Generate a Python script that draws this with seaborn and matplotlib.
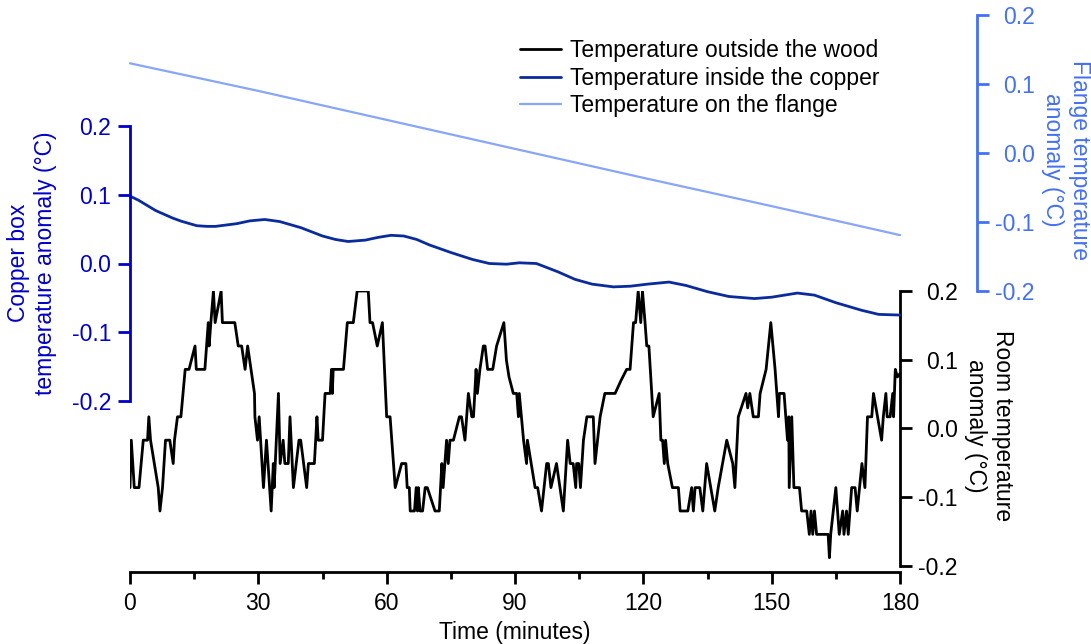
import matplotlib
matplotlib.use('Agg')
import matplotlib.pyplot as plt
import seaborn as sns
from matplotlib.ticker import MultipleLocator

# room temperature (outside the wood), minutes / degC anomaly
room_t = [0.0, 0.3, 1.0, 2.1, 3.1, 4.1, 4.4, 4.8, 6.6, 7.0, 7.6, 8.3, 9.3, 10.1, 10.4, 11.1, 11.9,
          12.9, 13.8, 15.2, 15.5, 16.8, 17.5, 18.3, 18.5, 18.9, 19.5, 19.9, 21.3, 21.6, 22.6, 24.5,
          25.3, 26.1, 26.9, 27.5, 29.1, 29.2, 29.8, 30.2, 31.2, 31.9, 33.0, 33.5, 33.7, 34.7, 35.1,
          35.8, 36.2, 37.0, 37.4, 38.2, 39.5, 39.9, 41.3, 41.7, 43.1, 43.4, 43.7, 44.0, 45.0, 45.6,
          46.8, 47.1, 47.3, 47.5, 49.9, 50.8, 52.2, 53.1, 55.7, 56.1, 56.7, 57.8, 59.0, 60.0, 60.8,
          62.0, 63.5, 64.5, 64.8, 65.3, 65.5, 66.5, 66.9, 67.2, 67.4, 67.8, 68.4, 69.0, 69.5, 71.3,
          72.3, 72.9, 73.2, 74.0, 74.4, 74.8, 75.6, 77.0, 77.5, 78.3, 79.1, 79.9, 80.3, 80.9, 81.2,
          81.8, 82.6, 83.0, 83.6, 84.8, 85.7, 87.4, 88.0, 88.6, 89.6, 90.4, 90.8, 91.0, 92.0, 92.7,
          92.9, 94.7, 95.3, 96.2, 97.4, 97.8, 98.4, 99.7, 101.3, 102.3, 102.9, 103.6, 104.2, 104.4,
          104.9, 105.3, 106.0, 106.8, 107.5, 108.3, 108.7, 109.3, 109.9, 111.0, 112.6, 113.4, 114.8,
          116.1, 116.9, 117.7, 118.2, 118.8, 119.4, 119.8, 120.4, 120.8, 121.3, 122.3, 123.7, 124.1,
          124.5, 124.9, 125.2, 125.7, 126.8, 128.2, 128.6, 130.4, 131.3, 131.7, 132.1, 133.2, 133.9,
          134.8, 136.7, 137.5, 139.5, 140.9, 141.4, 142.2, 144.0, 144.4, 144.9, 145.7, 146.9, 147.3,
          148.7, 149.8, 150.8, 151.6, 151.8, 152.9, 153.7, 154.0, 154.1, 154.7, 155.2, 156.5, 157.0,
          158.2, 158.8, 159.2, 159.6, 160.0, 160.5, 162.1, 163.2, 163.5, 163.8, 165.0, 165.8, 166.6,
          166.9, 167.5, 167.9, 168.3, 168.7, 169.5, 170.0, 171.1, 171.8, 172.4, 173.4, 173.8, 175.7,
          176.1, 176.7, 177.0, 177.7, 178.3, 178.5, 178.9, 179.4, 180.0]
room_v = [-0.086, -0.017, -0.086, -0.086, -0.017, -0.017, 0.017, -0.017, -0.086, -0.120, -0.086,
          -0.017, -0.017, -0.051, -0.017, 0.017, 0.017, 0.086, 0.086, 0.120, 0.086, 0.086, 0.086,
          0.154, 0.120, 0.154, 0.200, 0.154, 0.200, 0.154, 0.154, 0.154, 0.120, 0.120, 0.086, 0.120,
          0.051, 0.017, -0.017, 0.017, -0.086, -0.017, -0.120, -0.051, -0.086, 0.051, -0.051, -0.017,
          -0.051, -0.051, 0.017, -0.086, -0.017, -0.017, -0.086, -0.051, -0.051, -0.017, 0.017,
          -0.017, -0.017, 0.051, 0.051, 0.086, 0.051, 0.086, 0.086, 0.154, 0.154, 0.200, 0.200,
          0.154, 0.154, 0.120, 0.154, 0.017, 0.017, -0.086, -0.051, -0.051, -0.086, -0.086, -0.120,
          -0.120, -0.086, -0.120, -0.086, -0.120, -0.120, -0.086, -0.086, -0.120, -0.120, -0.051,
          -0.086, -0.017, -0.051, -0.017, -0.017, 0.017, 0.017, -0.017, 0.051, 0.017, 0.017, 0.086,
          0.051, 0.086, 0.120, 0.120, 0.086, 0.086, 0.120, 0.154, 0.099, 0.075, 0.051, 0.051, 0.017,
          0.051, -0.017, -0.051, -0.017, -0.086, -0.086, -0.120, -0.051, -0.051, -0.086, -0.051,
          -0.120, -0.017, -0.051, -0.051, -0.086, -0.051, -0.051, -0.086, -0.017, 0.017, 0.017,
          0.017, -0.051, -0.017, 0.017, 0.051, 0.051, 0.051, 0.070, 0.086, 0.086, 0.154, 0.154,
          0.200, 0.154, 0.200, 0.154, 0.120, 0.120, 0.017, 0.051, -0.017, -0.017, -0.051, -0.017,
          -0.051, -0.086, -0.086, -0.120, -0.120, -0.086, -0.120, -0.086, -0.086, -0.120, -0.051,
          -0.120, -0.086, -0.017, -0.051, -0.086, 0.017, 0.051, 0.030, 0.051, 0.017, 0.017, 0.051,
          0.086, 0.154, 0.086, 0.017, 0.051, 0.051, -0.017, 0.017, -0.086, 0.017, -0.086, -0.086,
          -0.120, -0.120, -0.154, -0.120, -0.154, -0.120, -0.154, -0.154, -0.154, -0.188, -0.154,
          -0.086, -0.154, -0.120, -0.154, -0.120, -0.154, -0.120, -0.086, -0.086, -0.120, -0.051,
          -0.086, 0.017, 0.017, 0.051, -0.017, 0.017, 0.051, 0.017, 0.017, 0.051, 0.017, 0.086,
          0.075, 0.080]

# copper box
copper_t = [0, 2, 6, 10, 12, 15.6, 18, 20, 25, 28, 31.5, 35, 40, 45, 48, 51, 55, 58, 61, 64, 67,
            70, 75, 80, 84, 88, 91, 95, 100, 104, 108, 113, 117, 121, 126, 130, 135, 140, 146,
            150, 156, 160, 165, 171, 175, 180]
copper_v = [0.098, 0.092, 0.077, 0.066, 0.0615, 0.055, 0.054, 0.054, 0.058, 0.062, 0.064, 0.061,
            0.052, 0.040, 0.035, 0.032, 0.034, 0.038, 0.041, 0.040, 0.035, 0.027, 0.016, 0.006,
            0.000, -0.001, 0.001, 0.000, -0.012, -0.023, -0.030, -0.034, -0.033, -0.030, -0.027,
            -0.032, -0.041, -0.048, -0.051, -0.049, -0.043, -0.046, -0.057, -0.068, -0.074, -0.075]

# flange
flange_t = [0, 30, 60, 90, 120, 150, 180]
flange_v = [0.130, 0.090, 0.048, 0.006, -0.036, -0.077, -0.119]

labels = ['Temperature outside the wood', 'Temperature inside the copper', 'Temperature on the flange']
x_ticks = [0, 30, 60, 90, 120, 150, 180]
y_ticks = [-0.2, -0.1, 0.0, 0.1, 0.2]
y_ticklabels = [f'{v:.1f}' for v in y_ticks]

CU_LINE, CU_AXIS = '#0a2b9c', '#0000c8'
FL_LINE, FL_AXIS = '#87a6f7', '#4470f2'
FS = 16.5

sns.set_theme(style='ticks')
plt.rcParams['font.family'] = ['Liberation Sans', 'DejaVu Sans']
plt.rcParams['font.size'] = FS
plt.rcParams['text.color'] = 'black'
plt.rcParams['axes.labelcolor'] = 'black'

W, H = 1091, 644
fig = plt.figure(figsize=(W / 100, H / 100), dpi=100)


def px_box(x0, y0, x1, y1):
    # pixel box (top-left origin) -> figure fraction rect
    return [x0 / W, 1 - y1 / H, (x1 - x0) / W, (y1 - y0) / H]


ax_room = fig.add_axes(px_box(130, 291, 900, 572))
ax_cu = fig.add_axes(px_box(130, 126, 900, 401))
ax_fl = fig.add_axes(px_box(130, 15, 900, 291))

sns.lineplot(x=room_t, y=room_v, ax=ax_room, color='black', lw=2.0, estimator=None, sort=False)
sns.lineplot(x=copper_t, y=copper_v, ax=ax_cu, color=CU_LINE, lw=2.0, estimator=None, sort=False)
sns.lineplot(x=flange_t, y=flange_v, ax=ax_fl, color=FL_LINE, lw=1.6, estimator=None, sort=False)

for ax in (ax_room, ax_cu, ax_fl):
    ax.set_facecolor('none')
    for s in ax.spines.values():
        s.set_visible(False)
        s.set_linewidth(2)
    ax.set_xlim(0, 180)

ax_cu.lines[0].set_clip_on(False)
ax_fl.lines[0].set_clip_on(False)

# room axis + shared time axis
ax_room.set_ylim(-0.2 - 6 / 685, 0.2)
ax_room.spines['bottom'].set_visible(True)
ax_room.spines['bottom'].set_color('black')
ax_room.spines['right'].set_visible(True)
ax_room.spines['right'].set_color('black')
ax_room.spines['right'].set_bounds(-0.2, 0.2)
ax_room.set_xticks(x_ticks)
ax_room.xaxis.set_minor_locator(MultipleLocator(15))
ax_room.tick_params(axis='x', which='major', length=8.5, width=2, pad=6, labelsize=FS, colors='black')
ax_room.tick_params(axis='x', which='minor', length=5, width=2, bottom=True, colors='black')
ax_room.yaxis.tick_right()
ax_room.set_yticks(y_ticks)
ax_room.set_yticklabels(y_ticklabels)
ax_room.tick_params(axis='y', length=8.5, width=2, pad=33, labelsize=FS, colors='black')
for t in ax_room.yaxis.get_major_ticks():
    t.label2.set_horizontalalignment('right')

# copper axis (left)
ax_cu.set_ylim(-0.2, 0.2)
ax_cu.spines['left'].set_visible(True)
ax_cu.spines['left'].set_color(CU_AXIS)
ax_cu.set_xticks([])
ax_cu.set_yticks(y_ticks)
ax_cu.set_yticklabels(y_ticklabels)
ax_cu.tick_params(axis='y', length=8.5, width=2, pad=5, labelsize=FS, colors=CU_AXIS)

# flange axis (far right)
ax_fl.set_ylim(-0.2, 0.2)
ax_fl.spines['right'].set_visible(True)
ax_fl.spines['right'].set_color(FL_AXIS)
ax_fl.spines['right'].set_position(('axes', 847 / 770))
ax_fl.set_xticks([])
ax_fl.yaxis.tick_right()
ax_fl.set_yticks(y_ticks)
ax_fl.set_yticklabels(y_ticklabels)
ax_fl.tick_params(axis='y', length=8.5, width=2, pad=33, labelsize=FS, colors=FL_AXIS)
for t in ax_fl.yaxis.get_major_ticks():
    t.label2.set_horizontalalignment('right')

# axis titles
fig.text(515 / W, 1 - 632 / H, 'Time (minutes)', ha='center', va='center', fontsize=FS)
fig.text(32 / W, 1 - 263 / H, 'Copper box\ntemperature anomaly (°C)', rotation=90,
         ha='center', va='center', multialignment='center', fontsize=FS, color=CU_AXIS)
fig.text(989 / W, 1 - 426 / H, 'Room temperature\nanomaly (°C)', rotation=270,
         ha='center', va='center', multialignment='center', fontsize=FS, color='black')
fig.text(1066 / W, 1 - 160 / H, 'Flange temperature\nanomaly (°C)', rotation=270,
         ha='center', va='center', multialignment='center', fontsize=FS, color=FL_AXIS)

handles = [ax_room.lines[0], ax_cu.lines[0], ax_fl.lines[0]]
fig.legend(handles, labels, loc='upper left', bbox_to_anchor=(520 / W, 1 - 39 / H),
           frameon=False, fontsize=FS, handlelength=1.8, handletextpad=0.4,
           labelspacing=0.2, borderpad=0, borderaxespad=0)

fig.savefig('out.png', dpi=100)
